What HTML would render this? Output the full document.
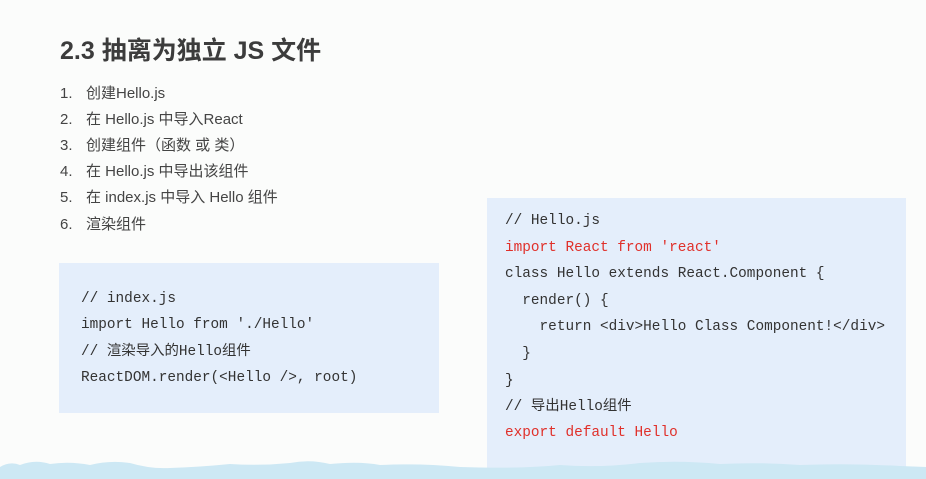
<!DOCTYPE html>
<html><head><meta charset="utf-8"><style>
body{margin:0;width:926px;height:479px;background:#fbfcfb;position:relative;overflow:hidden;font-family:"Liberation Sans","Noto Sans CJK SC",sans-serif;color:#3a3a3a}
.t{position:absolute;left:60px;top:31px;font-size:25px;font-weight:bold;color:#3c3c3c;white-space:nowrap}
.li{position:absolute;left:60px;font-size:15px;white-space:nowrap;color:#444}
.li span{display:inline-block;width:26px}
.box{position:absolute;background:#e4eefb}
.c{position:absolute;font-family:"Liberation Mono","Noto Sans CJK SC",monospace;font-size:14.4px;white-space:pre;color:#333;line-height:16px}
.r{color:#e0302a}
</style></head><body>
<div class="t">2.3 抽离为独立 JS 文件</div>
<div class="li" style="top:82px"><span>1.</span>创建Hello.js</div>
<div class="li" style="top:108px"><span>2.</span>在 Hello.js 中导入React</div>
<div class="li" style="top:134px"><span>3.</span>创建组件（函数 或 类）</div>
<div class="li" style="top:160px"><span>4.</span>在 Hello.js 中导出该组件</div>
<div class="li" style="top:186px"><span>5.</span>在 index.js 中导入 Hello 组件</div>
<div class="li" style="top:213px"><span>6.</span>渲染组件</div>
<div class="box" style="left:59px;top:263px;width:380px;height:150px"></div>
<div class="box" style="left:487px;top:198px;width:419px;height:281px"></div>
<div class="c" style="left:81px;top:291px">// index.js</div>
<div class="c" style="left:81px;top:317px">import Hello from './Hello'</div>
<div class="c" style="left:81px;top:344px">// 渲染导入的Hello组件</div>
<div class="c" style="left:81px;top:370px">ReactDOM.render(&lt;Hello /&gt;, root)</div>
<div class="c" style="left:505px;top:213px">// Hello.js</div>
<div class="c r" style="left:505px;top:240px">import React from 'react'</div>
<div class="c" style="left:505px;top:266px">class Hello extends React.Component {</div>
<div class="c" style="left:505px;top:293px">  render() {</div>
<div class="c" style="left:505px;top:319px">    return &lt;div&gt;Hello Class Component!&lt;/div&gt;</div>
<div class="c" style="left:505px;top:346px">  }</div>
<div class="c" style="left:505px;top:373px">}</div>
<div class="c" style="left:505px;top:399px">// 导出Hello组件</div>
<div class="c r" style="left:505px;top:425px">export default Hello</div>
<svg style="position:absolute;left:0;top:455px" width="926" height="24"><path d="M0 12 Q10 6 20 10 Q35 4 50 9 Q70 6 90 10 Q110 5 130 8 Q150 14 170 13 Q200 12 230 9 Q260 11 290 8 Q310 4 330 9 Q360 6 380 10 Q420 8 460 12 Q520 14 560 10 Q600 13 640 8 Q680 5 720 9 Q760 7 800 10 Q850 8 900 11 L926 12 L926 24 L0 24Z" fill="#cde8f4"/></svg>
</body></html>
